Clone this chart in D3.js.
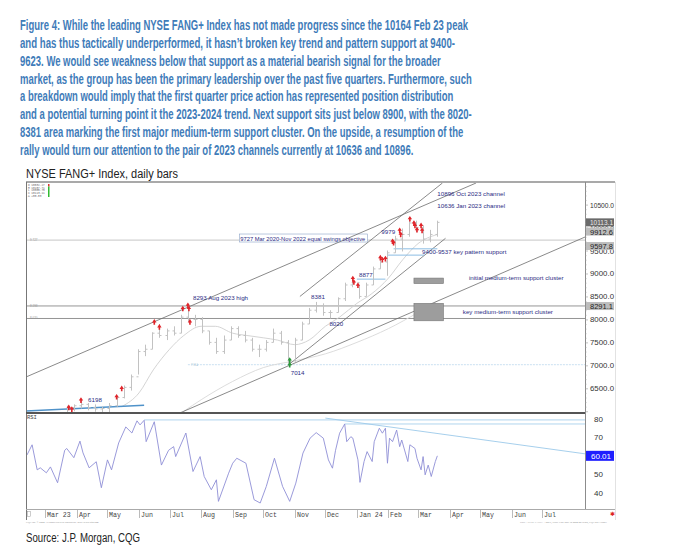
<!DOCTYPE html>
<html><head><meta charset="utf-8">
<script src="https://cdn.jsdelivr.net/npm/d3@7"></script>
<style>body{margin:0;background:#fff}svg{display:block}</style>
</head><body><svg id="c" width="680" height="555"></svg>
<script>
// ---------------- DATA ----------------
const titleLines = [
 "Figure 4: While the leading NYSE FANG+ Index has not made progress since the 10164 Feb 23 peak",
 "and has thus tactically underperformed, it hasn\u2019t broken key trend and pattern support at 9400-",
 "9623. We would see weakness below that support as a material bearish signal for the broader",
 "market, as the group has been the primary leadership over the past five quarters. Furthermore, such",
 "a breakdown would imply that the first quarter price action has represented position distribution",
 "and a potential turning point it the 2023-2024 trend. Next support sits just below 8900, with the 8020-",
 "8381 area marking the first major medium-term support cluster. On the upside, a resumption of the",
 "rally would turn our attention to the pair of 2023 channels currently at 10636 and 10896."
];
const subtitle = "NYSE FANG+ Index, daily bars";
const sourceText = "Source: J.P. Morgan, CQG";

// weekly price bars (mid-week date)
const barDates = ["2023-02-08","2023-02-15","2023-02-22","2023-03-01","2023-03-08","2023-03-15","2023-03-22","2023-03-29","2023-04-05","2023-04-12","2023-04-19","2023-04-26","2023-05-03","2023-05-10","2023-05-17","2023-05-24","2023-05-31","2023-06-07","2023-06-14","2023-06-21","2023-06-28","2023-07-05","2023-07-12","2023-07-19","2023-07-26","2023-08-02","2023-08-09","2023-08-16","2023-08-23","2023-08-30","2023-09-06","2023-09-13","2023-09-20","2023-09-27","2023-10-04","2023-10-11","2023-10-18","2023-10-25","2023-11-01","2023-11-08","2023-11-15","2023-11-22","2023-11-29","2023-12-06","2023-12-13","2023-12-20","2023-12-27","2024-01-03","2024-01-10","2024-01-17","2024-01-24","2024-01-31","2024-02-07","2024-02-14","2024-02-21","2024-02-28","2024-03-06","2024-03-13","2024-03-20"];
const barHigh  = [5900,5880,5800,5750,5850,5980,6120,6150,6240,6180,6150,6100,6180,6330,6560,6800,7350,7450,7720,7900,7800,7850,8100,8293,8100,8050,7750,7600,7650,7850,7850,7750,7600,7450,7550,7800,7750,7550,7600,7950,8250,8381,8350,8200,8480,8800,8877,8750,8800,9150,9380,9500,9820,9979,10164,10150,10050,9950,10150];
const barLow   = [5650,5650,5550,5550,5600,5650,5920,6000,6060,6020,5990,5900,5980,6100,6280,6450,6800,7200,7350,7600,7550,7650,7700,7950,7850,7700,7450,7250,7250,7550,7600,7500,7300,7180,7300,7500,7450,7014,7080,7550,7900,8150,8080,8020,8150,8400,8700,8450,8500,8750,9100,8950,9450,9480,9800,9900,9650,9680,9800];
const barClose = [5700,5800,5600,5700,5650,5950,6080,6120,6150,6080,6050,6060,6120,6300,6520,6750,7300,7350,7700,7650,7750,7700,8050,8000,8000,7750,7500,7300,7550,7800,7650,7550,7350,7350,7500,7700,7500,7100,7550,7900,8200,8300,8150,8150,8450,8750,8800,8500,8750,9100,9250,9450,9750,9850,10100,10000,9750,9850,10113];

// light moving-average style lines
const maFastDates = ["2023-05-15","2023-06-01","2023-06-15","2023-07-01","2023-07-15","2023-08-01","2023-08-15","2023-09-01","2023-09-15","2023-10-01","2023-10-15","2023-11-01","2023-11-15","2023-12-01","2023-12-15","2024-01-01","2024-01-15","2024-02-01","2024-02-15","2024-03-01","2024-03-20"];
const maFastValues = [6100,6400,6900,7350,7650,7850,7850,7700,7650,7600,7550,7450,7550,7850,8050,8350,8550,8900,9300,9650,9850];
const maSlowDates = ["2023-07-15","2023-08-01","2023-09-01","2023-10-01","2023-11-01","2023-12-01","2024-01-01","2024-02-01","2024-03-01","2024-03-20"];
const maSlowValues = [6000,6250,6650,6950,7100,7250,7500,7800,8150,8400];

// RSI
const rsiDates = ["2023-02-11","2023-02-16","2023-02-21","2023-02-24","2023-03-02","2023-03-06","2023-03-13","2023-03-20","2023-03-22","2023-03-29","2023-04-04","2023-04-07","2023-04-13","2023-04-20","2023-04-25","2023-05-01","2023-05-05","2023-05-12","2023-05-19","2023-05-25","2023-05-30","2023-06-02","2023-06-06","2023-06-08","2023-06-16","2023-06-23","2023-06-30","2023-07-05","2023-07-07","2023-07-17","2023-07-24","2023-07-31","2023-08-04","2023-08-11","2023-08-16","2023-08-18","2023-08-28","2023-09-01","2023-09-05","2023-09-14","2023-09-22","2023-09-28","2023-10-04","2023-10-12","2023-10-20","2023-10-27","2023-11-02","2023-11-09","2023-11-16","2023-11-22","2023-11-29","2023-12-04","2023-12-08","2023-12-11","2023-12-15","2023-12-20","2023-12-22","2023-12-26","2023-12-28","2024-01-02","2024-01-04","2024-01-08","2024-01-11","2024-01-16","2024-01-18","2024-01-23","2024-01-26","2024-01-29","2024-01-31","2024-02-02","2024-02-05","2024-02-09","2024-02-12","2024-02-14","2024-02-20","2024-02-22","2024-02-27","2024-02-29","2024-03-04","2024-03-06","2024-03-08","2024-03-11","2024-03-14","2024-03-18","2024-03-20"];
const rsiValues = [60.5,66,52.4,53.5,50.8,54,45.4,63,64,59,68,61.6,53.5,56.8,42.7,57.8,52.4,67,75.7,72.4,79,76.8,79.3,67.7,78.5,55,63,65,59.6,72.4,51.5,59.6,48.8,41.6,47,35.3,50.6,56,58.7,56,36.2,34.4,43.4,58.7,43.4,35.3,45.2,61.5,69.6,72.6,69.6,57.8,53.3,63,72.3,77.3,67.7,70.4,69.6,57.8,45.6,56.9,62.3,56.9,67.7,75,72.3,75,56,69.6,67.7,74,65,68.6,56.9,66,64,58.7,52.4,59.6,49.7,55,48.8,56.9,60.01];

// axes
const priceTicks = [6500,7000,7500,8000,8500,9000,9500,10000,10500];
const rsiTicks = [40,50,70,80];
const xTickDates = ["2023-03-01","2023-04-01","2023-05-01","2023-06-01","2023-07-01","2023-08-01","2023-09-01","2023-10-01","2023-11-01","2023-12-01","2024-01-01","2024-02-01","2024-03-01","2024-04-01","2024-05-01","2024-06-01","2024-07-01"];
const xTickLabels = ["Mar 23","Apr","May","Jun","Jul","Aug","Sep","Oct","Nov","Dec","Jan 24","Feb","Mar","Apr","May","Jun","Jul"];

// level boxes on the right price axis
const levelValues = [10113.1, 9912.6, 9597.8, 8291.1];
const rsiLast = 60.01;

// horizontal levels
const fullLevels = [9727, 8293, 8020];
const level7014 = {d1:"2023-07-19", v:7014};
const supportLines = [
 {d1:"2023-02-10", v1:6007, d2:"2023-06-06", v2:6130},
 {d1:"2024-01-01", v1:8877, d2:"2024-01-29", v2:8877},
 {d1:"2024-01-31", v1:9400, d2:"2024-03-07", v2:9400},
 {d1:"2024-02-06", v1:9537, d2:"2024-03-20", v2:9537}
];
// trend/channel lines
const trendLines = [
 {d1:"2023-02-10", v1:6746, d2:"2024-04-27", v2:10970},
 {d1:"2023-07-11", v1:5962, d2:"2024-08-12", v2:9794},
 {d1:"2023-10-26", v1:7014, d2:"2024-03-28", v2:9766},
 {d1:"2023-11-06", v1:8500, d2:"2024-03-25", v2:10970}
];
// support cluster boxes
const clusterBoxes = [
 {d1:"2024-02-26", d2:"2024-03-26", lo:8780, hi:8900},
 {d1:"2024-02-26", d2:"2024-03-26", lo:7970, hi:8350}
];
// RSI lines
const rsiLevels = [{d1:"2023-06-06", v:79.5},{d1:"2023-12-20", v:77.3}];
const rsiTrend = {d1:"2023-12-01", v1:80.5, d2:"2024-08-12", v2:61.1};

// signal markers
const redMarkDates = ["2023-03-24","2023-03-27","2023-04-05","2023-05-10","2023-05-15","2023-06-16","2023-06-21","2023-07-14","2023-07-19","2023-07-20","2023-07-21","2023-12-28","2023-12-29","2024-01-02","2024-01-24","2024-01-26","2024-01-29","2024-02-05","2024-02-06","2024-02-12","2024-02-13","2024-02-22","2024-02-26","2024-02-27","2024-02-29","2024-03-04","2024-03-05"];
const redMarkValues = [6080,6043,6239,6311,6493,7941,7833,8233,8304,8233,7941,8885,8811,8739,9341,9298,9320,9696,9667,9935,9848,10189,10093,10043,9950,10043,9935];
const greenMarkDates = ["2023-10-27","2023-10-27"];
const greenMarkValues = [7110,7010];

// annotations (anchored in date/value)
const annotations = [
 {t:"10896 Oct 2023 channel", d:"2024-03-20", v:10698},
 {t:"10636 Jan 2023 channel", d:"2024-03-20", v:10436},
 {t:"9979", d:"2024-01-25", v:9859},
 {t:"9400-9537 key pattern support", d:"2024-03-05", v:9424},
 {t:"8877", d:"2024-01-03", v:8934},
 {t:"initial medium-term support cluster", d:"2024-04-20", v:8858},
 {t:"8381", d:"2023-11-17", v:8455},
 {t:"8293 Aug 2023 high", d:"2023-07-24", v:8422},
 {t:"8020", d:"2023-12-05", v:7867},
 {t:"key medium-term support cluster", d:"2024-04-14", v:8107},
 {t:"7014", d:"2023-10-28", v:6779},
 {t:"6198", d:"2023-04-12", v:6191}
];
const objectiveLabel = {t:"9727 Mar 2020-Nov 2022 equal swings objective", d:"2023-09-07", v:9718};
const legendLines = ["O 10032.27","H 10157.71","L 10005.75","C 10113.11","\u0394  +80.83"];

// ---------------- DRAW ----------------
const svg = d3.select("#c");
const parse = d3.timeParse("%Y-%m-%d");
const L = 26, R = 585, AX = 615, TOP = 182, PB = 413, RB = 509;
const x = d3.scaleTime().domain([parse("2023-02-10"), parse("2024-08-12")]).range([L, R]);
const y = d3.scaleLinear().domain([6500, 10500]).range([388.3, 204.6]);
const yr = d3.scaleLinear().domain([40, 80]).range([492.7, 419]);

// title
const titleWidths = [448, 435, 420.7, 451.7, 433.3, 451.7, 443.3, 393.3];
svg.append("g").selectAll("text").data(titleLines).join("text")
  .attr("x", 20).attr("y", (d,i) => 30 + i*17.86)
  .attr("textLength", (d,i) => titleWidths[i]).attr("lengthAdjust", "spacingAndGlyphs")
  .style("font-family", "'Liberation Sans Narrow','Arial Narrow','Liberation Sans',Arial,sans-serif")
  .style("font-weight", "bold").style("font-size", "14px").style("fill", "#3f7cb9")
  .text(d => d);
svg.append("text").attr("x", 26).attr("y", 177.5).attr("textLength", 152).attr("lengthAdjust","spacingAndGlyphs")
  .style("font-family","'Liberation Sans',Arial,sans-serif").style("font-size","12.5px").style("fill","#222").text(subtitle);
svg.append("text").attr("x", 26).attr("y", 541.5).attr("textLength", 114).attr("lengthAdjust","spacingAndGlyphs")
  .style("font-family","'Liberation Sans',Arial,sans-serif").style("font-size","12px").style("fill","#222").text(sourceText);

// clips
const defs = svg.append("defs");
defs.append("clipPath").attr("id","cp").append("rect").attr("x",L).attr("y",TOP+1).attr("width",R-L).attr("height",PB-TOP-2);
defs.append("clipPath").attr("id","cr").append("rect").attr("x",L).attr("y",PB+1).attr("width",R-L).attr("height",RB-PB-2);

const gp = svg.append("g").attr("clip-path","url(#cp)");
const gr = svg.append("g").attr("clip-path","url(#cr)");

// horizontal full levels
gp.selectAll("line.full").data(fullLevels).join("line")
  .attr("x1", L).attr("x2", R).attr("y1", d => y(d)).attr("y2", d => y(d))
  .attr("stroke", (d,i) => i===0 ? "#b8b8b8" : "#7a7a7a").attr("stroke-width", 0.8);
gp.selectAll("text.fl").data(fullLevels).join("text")
  .attr("x", L+4).attr("y", d => y(d)+1).style("font-size","3px").style("fill","#999")
  .style("font-family","'Liberation Sans',Arial").text(d => d3.format(",")(d).replace(","," "));
gp.append("line").attr("x1", x(parse(level7014.d1))).attr("x2", R).attr("y1", y(level7014.v)).attr("y2", y(level7014.v))
  .attr("stroke","#bcd8ee").attr("stroke-width",0.8).attr("stroke-dasharray","2,1");
gp.append("text").attr("x", x(parse(level7014.d1))+3).attr("y", y(level7014.v)+1).style("font-size","3px").style("fill","#9bc").text("7 014");

// moving averages
const lineGen = d3.line().x(d => x(d[0])).y(d => y(d[1])).curve(d3.curveMonotoneX);
gp.append("path").attr("d", lineGen(maFastDates.map((d,i)=>[parse(d), maFastValues[i]])))
  .attr("fill","none").attr("stroke","#cfcfcf").attr("stroke-width",0.9);
gp.append("path").attr("d", lineGen(maSlowDates.map((d,i)=>[parse(d), maSlowValues[i]])))
  .attr("fill","none").attr("stroke","#d8d8d8").attr("stroke-width",0.9);

// trend lines
gp.selectAll("line.tr").data(trendLines).join("line")
  .attr("x1", d => x(parse(d.d1))).attr("y1", d => y(d.v1))
  .attr("x2", d => x(parse(d.d2))).attr("y2", d => y(d.v2))
  .attr("stroke", "#6c6c6c").attr("stroke-width", 0.8);

// support lines (light blue)
gp.selectAll("line.sp").data(supportLines).join("line")
  .attr("x1", d => x(parse(d.d1))).attr("y1", d => y(d.v1))
  .attr("x2", d => x(parse(d.d2))).attr("y2", d => y(d.v2))
  .attr("stroke", (d,i) => i===0 ? "#4f92c9" : "#7fb6e0").attr("stroke-width", (d,i) => i===0 ? 1.4 : 0.9);

// cluster boxes
gp.selectAll("rect.cl").data(clusterBoxes).join("rect")
  .attr("x", d => x(parse(d.d1))).attr("width", d => x(parse(d.d2)) - x(parse(d.d1)))
  .attr("y", d => y(d.hi)).attr("height", d => y(d.lo) - y(d.hi))
  .attr("fill", "#9d9d9d").attr("stroke", "#777").attr("stroke-width", 0.6);

// price bars
const bars = barDates.map((d,i) => ({d:parse(d), h:barHigh[i], l:barLow[i], c:barClose[i], o: i>0 ? barClose[i-1] : barClose[i]}));
const gb = gp.append("g").attr("stroke","#c2c2c2").attr("stroke-width",1);
bars.forEach(b => {
  const xx = Math.round(x(b.d)) + 0.5;
  gb.append("line").attr("x1",xx).attr("x2",xx).attr("y1",y(b.h)).attr("y2",y(b.l));
  gb.append("line").attr("x1",xx-2).attr("x2",xx).attr("y1",y(b.o)).attr("y2",y(b.o));
  gb.append("line").attr("x1",xx).attr("x2",xx+2).attr("y1",y(b.c)).attr("y2",y(b.c));
});

// markers
const arrow = "M0,-3 L2.2,0.3 L0.8,0.3 L0.8,2.6 L-0.8,2.6 L-0.8,0.3 L-2.2,0.3 Z";
gp.selectAll("path.rm").data(redMarkDates).join("path")
  .attr("d", arrow).attr("transform", (d,i) => `translate(${x(parse(d))},${y(redMarkValues[i])})`)
  .attr("fill", "#e0242a");
gp.selectAll("path.gm").data(greenMarkDates).join("path")
  .attr("d", arrow).attr("transform", (d,i) => `translate(${x(parse(d))},${y(greenMarkValues[i])})`)
  .attr("fill", "#2a9a3a");

// annotations
const annoFont = "'Liberation Sans',Arial,sans-serif";
gp.selectAll("text.an").data(annotations).join("text")
  .attr("x", d => x(parse(d.d))).attr("y", d => y(d.v))
  .style("font-family", annoFont).style("font-size","6.2px").style("fill","#2b2b83").text(d => d.t);
const ob = gp.append("text").attr("x", x(parse(objectiveLabel.d))+1.5).attr("y", y(objectiveLabel.v))
  .attr("textLength", 125).attr("lengthAdjust","spacingAndGlyphs")
  .style("font-family", annoFont).style("font-size","6.2px").style("fill","#2b2b83").text(objectiveLabel.t);
const bb = ob.node().getBBox();
gp.insert("rect", "text").attr("x", bb.x-1).attr("y", bb.y-0.5).attr("width", 128).attr("height", bb.height+1)
  .attr("fill","#fff").attr("stroke","#8da4c8").attr("stroke-width",0.6);

// legend (tiny)
const lg = svg.append("g");
lg.selectAll("text").data(legendLines).join("text")
  .attr("x", 28).attr("y", (d,i) => 186 + i*2.7).style("font-size","2.8px").style("fill","#666")
  .style("font-family","'Liberation Mono',monospace").text(d => d);
lg.append("rect").attr("x",48).attr("y",184).attr("width",1.5).attr("height",2.5).attr("fill","#d33");
lg.append("rect").attr("x",48).attr("y",186.5).attr("width",1.5).attr("height",10.5).attr("fill","#3b3");

// RSI
gr.selectAll("line.rl").data(rsiLevels).join("line")
  .attr("x1", d => x(parse(d.d1))).attr("x2", R).attr("y1", d => yr(d.v)).attr("y2", d => yr(d.v))
  .attr("stroke", "#9cc9ea").attr("stroke-width", 0.8);
gr.append("line").attr("x1", x(parse(rsiTrend.d1))).attr("y1", yr(rsiTrend.v1))
  .attr("x2", x(parse(rsiTrend.d2))).attr("y2", yr(rsiTrend.v2))
  .attr("stroke", "#9cc9ea").attr("stroke-width", 0.9);
const rsiLine = d3.line().x(d => x(d[0])).y(d => yr(d[1]));
gr.append("path").attr("d", rsiLine(rsiDates.map((d,i)=>[parse(d), rsiValues[i]])))
  .attr("fill","none").attr("stroke","#8e8ed6").attr("stroke-width",0.9);
svg.append("text").attr("x", 27).attr("y", 419).style("font-size","5.5px").style("fill","#444")
  .style("font-family","'Liberation Mono',monospace").text("RSI");

// frames
const fr = svg.append("g").attr("fill","none");
fr.append("line").attr("x1",L).attr("x2",AX).attr("y1",TOP).attr("y2",TOP).attr("stroke","#8c8c8c").attr("stroke-width",1.5);
fr.append("line").attr("x1",L+0.5).attr("x2",L+0.5).attr("y1",TOP).attr("y2",520).attr("stroke","#777").attr("stroke-width",1);
fr.append("line").attr("x1",R+0.5).attr("x2",R+0.5).attr("y1",TOP).attr("y2",RB).attr("stroke","#8c8c8c").attr("stroke-width",1);
fr.append("line").attr("x1",AX+0.5).attr("x2",AX+0.5).attr("y1",TOP).attr("y2",520).attr("stroke","#e2e2e2").attr("stroke-width",1);
fr.append("line").attr("x1",L).attr("x2",R).attr("y1",PB).attr("y2",PB).attr("stroke","#555").attr("stroke-width",2);
fr.append("line").attr("x1",L).attr("x2",AX).attr("y1",RB+0.5).attr("y2",RB+0.5).attr("stroke","#aaa").attr("stroke-width",1);

// price axis minor ticks
const minor = d3.range(6000, 11000, 100);
svg.append("g").selectAll("line").data(minor.filter(v => y(v) > TOP+1 && y(v) < PB-1)).join("line")
  .attr("x1", R).attr("x2", d => R + (d % 500 === 0 ? 3 : 1.5)).attr("y1", d => y(d)+0.5).attr("y2", d => y(d)+0.5)
  .attr("stroke", "#999").attr("stroke-width", 0.6);

// price axis labels
const axFont = "'Liberation Sans',Arial,sans-serif";
svg.append("g").selectAll("text").data(priceTicks).join("text")
  .attr("x", 590).attr("y", d => y(d)+3).attr("textLength", 24).attr("lengthAdjust","spacingAndGlyphs")
  .style("font-family", axFont).style("font-size","8px").style("fill","#333")
  .text(d => d3.format(".1f")(d));

// level boxes
const lb = svg.append("g").selectAll("g").data(levelValues).join("g")
  .attr("transform", d => `translate(586,${y(d)})`);
lb.append("rect").attr("x",0).attr("y",-4).attr("width",28).attr("height",8)
  .attr("fill", (d,i) => i===0 ? "#6a6a6a" : "#bdbdbd");
lb.append("text").attr("x",4).attr("y",3).attr("textLength",23).attr("lengthAdjust","spacingAndGlyphs")
  .style("font-family", axFont).style("font-size","8px").style("fill", (d,i) => i===0 ? "#e8e8e8" : "#222")
  .text(d => d3.format(".1f")(d));

// RSI axis labels
svg.append("g").selectAll("text").data(rsiTicks).join("text")
  .attr("x", 594).attr("y", d => yr(d)+3).style("font-family", axFont).style("font-size","8px").style("fill","#333")
  .text(d => d);
const rb = svg.append("g").attr("transform", `translate(586,${yr(rsiLast)})`);
rb.append("rect").attr("x",0).attr("y",-5).attr("width",28).attr("height",10).attr("fill","#1f1fff");
rb.append("text").attr("x",5).attr("y",3).style("font-family",axFont).style("font-size","8px").style("fill","#fff")
  .text(d3.format(".2f")(rsiLast));

// x axis
const gx = svg.append("g");
xTickDates.forEach((d,i) => {
  const xx = Math.round(x(parse(d))) + 0.5;
  gx.append("line").attr("x1",xx).attr("x2",xx).attr("y1",RB).attr("y2",518).attr("stroke","#aaa").attr("stroke-width",0.8);
  gx.append("text").attr("x", xx+1.5).attr("y", 516.5)
    .style("font-family","'Liberation Mono','DejaVu Sans Mono',monospace").style("font-size","6.6px").style("fill","#444")
    .text(xTickLabels[i]);
});
gx.append("rect").attr("x",27.5).attr("y",511.5).attr("width",3).attr("height",5).attr("fill","none").attr("stroke","#999").attr("stroke-width",0.5);
svg.append("text").attr("x",26).attr("y",522.5).style("font-size","2.6px").style("fill","#888")
  .text("CQG Inc. \u00a9 2024 All rights reserved worldwide. http://www.cqg.com");
svg.append("text").attr("x",520).attr("y",522.5).style("font-size","2.6px").style("fill","#888")
  .text("Price - NYSE FANG+ - Index, Daily  Cust Mar 19 2024 09:18:09, CQG 22.13.8053");
svg.append("text").attr("x",610).attr("y",516).style("font-size","6px").style("fill","#d22").text("\u2731");
</script></body></html>
